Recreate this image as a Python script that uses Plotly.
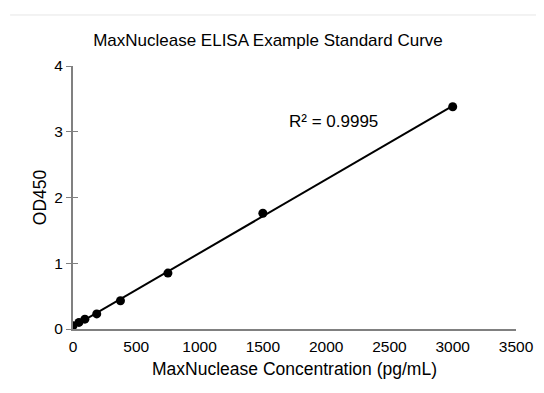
import numpy as np
import plotly.graph_objects as go

conc = [0, 46.875, 93.75, 187.5, 375, 750, 1500, 3000]
od450 = [0.05, 0.10, 0.15, 0.23, 0.43, 0.85, 1.76, 3.38]
x_ticks = [0, 500, 1000, 1500, 2000, 2500, 3000, 3500]
y_ticks = [0, 1, 2, 3, 4]

slope, intercept = np.polyfit(conc, od450, 1)
fit_x = [min(conc), max(conc)]
fit_y = [slope * v + intercept for v in fit_x]

font = "Liberation Sans, Arial, sans-serif"
fig = go.Figure()
fig.add_trace(go.Scatter(x=fit_x, y=fit_y, mode="lines",
                         line=dict(color="black", width=2), showlegend=False))
fig.add_trace(go.Scatter(x=conc, y=od450, mode="markers",
                         marker=dict(color="black", size=9), showlegend=False))
fig.add_trace(go.Scatter(x=[None], y=[None], yaxis="y2", showlegend=False))

fig.update_layout(
    width=536, height=385,
    margin=dict(l=65, r=28, t=58, b=64),
    paper_bgcolor="white", plot_bgcolor="white",
    font=dict(family=font, color="black", size=15),
    title=dict(text="MaxNuclease ELISA Example Standard Curve",
               x=0.485, xanchor="center", y=0.917, yanchor="middle",
               font=dict(size=17, family=font, color="black")),
    xaxis=dict(range=[0, 3500], tickvals=x_ticks, showgrid=False, zeroline=False,
               showline=True, linecolor="#808080", linewidth=2,
               ticks="outside", ticklen=2, tickcolor="white",
               automargin=False,
               tickfont=dict(size=15.5, family=font),
               title=dict(text="MaxNuclease Concentration (pg/mL)", standoff=9,
                          font=dict(size=17.5, family=font))),
    yaxis=dict(range=[0, 4], tickvals=y_ticks, showgrid=False, zeroline=False,
               showline=True, linecolor="#808080", linewidth=2,
               ticks="outside", ticklen=5, tickcolor="#808080", tickwidth=1,
               automargin=False,
               tickfont=dict(size=15.5, family=font),
               title=dict(text="OD450", standoff=3, font=dict(size=17.5, family=font))),
    yaxis2=dict(range=[0, 4], tickvals=y_ticks, overlaying="y", side="left",
                showgrid=False, zeroline=False, showline=False, showticklabels=False,
                automargin=False,
                ticks="inside", ticklen=5, tickcolor="#808080", tickwidth=1),
    annotations=[dict(text="R² = 0.9995", x=2060, y=3.15, xref="x", yref="y",
                      showarrow=False, font=dict(size=17, family=font))],
    shapes=[dict(type="line", xref="paper", yref="paper", x0=-0.142, x1=1.063,
                 y0=1.194, y1=1.194, line=dict(color="#e6e6e6", width=1))],
)

fig.write_html("out.html")
